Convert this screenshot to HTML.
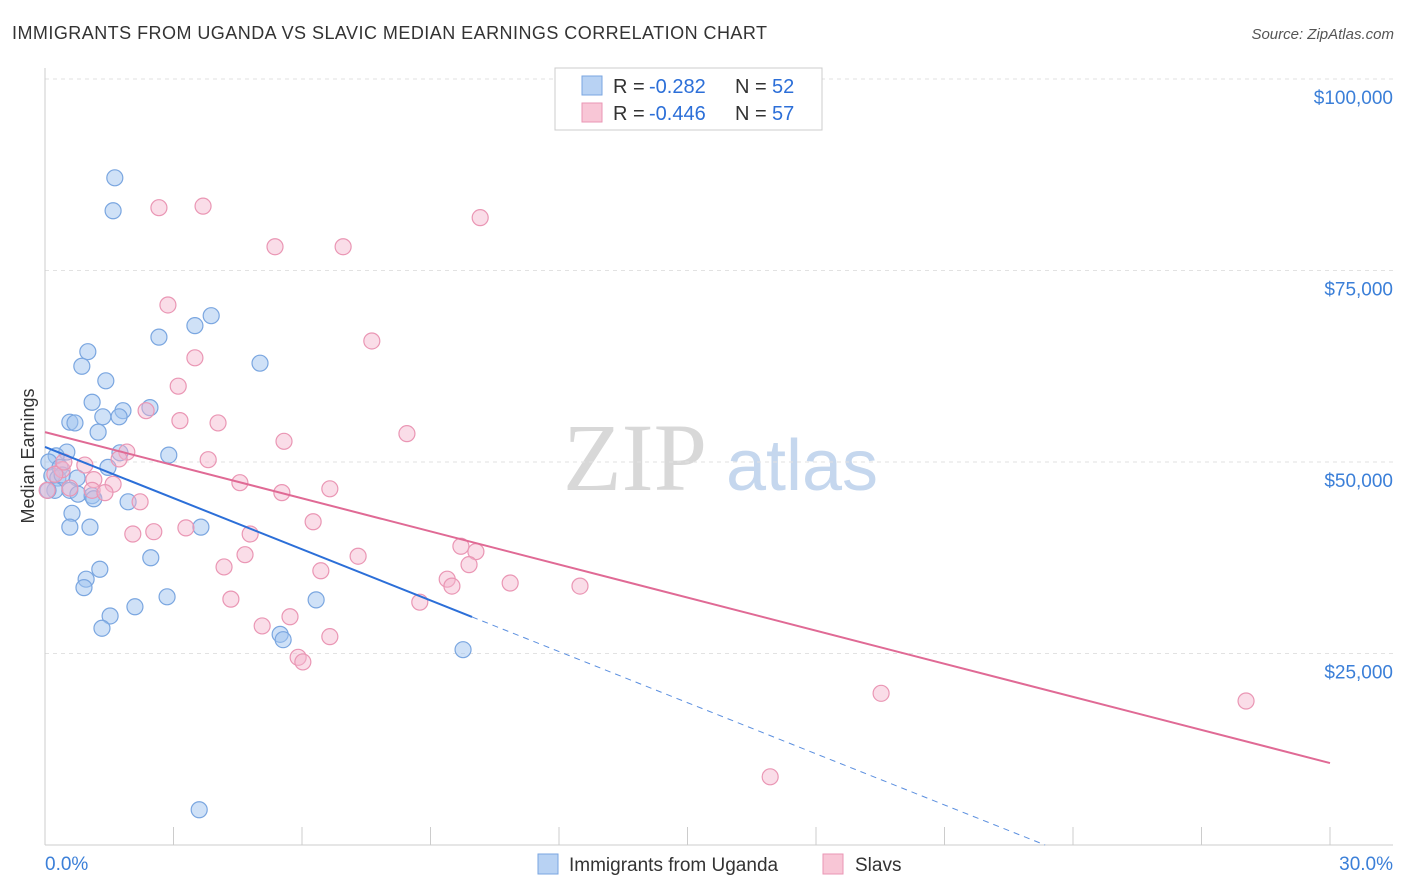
<!DOCTYPE html>
<html><head><meta charset="utf-8"><style>
body{margin:0;background:#fff;font-family:"Liberation Sans",sans-serif;}
#wrap{position:relative;width:1406px;height:892px;overflow:hidden;}
</style></head><body>
<div id="wrap">
<svg id="svg" width="1406" height="892" xmlns="http://www.w3.org/2000/svg">
<text x="12" y="39" font-size="18" fill="#333" textLength="755" lengthAdjust="spacing">IMMIGRANTS FROM UGANDA VS SLAVIC MEDIAN EARNINGS CORRELATION CHART</text>
<text x="1394" y="39" font-size="15" fill="#555" font-style="italic" text-anchor="end">Source: ZipAtlas.com</text>
<text x="34" y="456" font-size="18" fill="#333" text-anchor="middle" transform="rotate(-90 34 456)">Median Earnings</text>
<g>
<text x="635" y="490" font-size="96" fill="#d8d8d8" font-family="Liberation Serif,serif" text-anchor="middle">ZIP</text>
<text x="802" y="490" font-size="72" fill="#c5d7ee" text-anchor="middle">atlas</text>
</g>
<g id="grid"></g><g id="marks"></g><g id="trend"></g>
<g>
<rect x="555" y="68" width="267" height="62" fill="#fff" stroke="#ccc"/>
<rect x="582" y="76" width="20" height="19" fill="#b8d2f3" stroke="#7aa6e0"/>
<rect x="582" y="103" width="20" height="19" fill="#f8c6d6" stroke="#ea96b4"/>
<text x="613" y="93" font-size="20" fill="#333">R = </text><text x="649" y="93" font-size="20" fill="#2c6fd8">-0.282</text>
<text x="735" y="93" font-size="20" fill="#333">N = </text><text x="772" y="93" font-size="20" fill="#2c6fd8">52</text>
<text x="613" y="120" font-size="20" fill="#333">R = </text><text x="649" y="120" font-size="20" fill="#2c6fd8">-0.446</text>
<text x="735" y="120" font-size="20" fill="#333">N = </text><text x="772" y="120" font-size="20" fill="#2c6fd8">57</text>
</g>
<g>
<rect x="538" y="854" width="20" height="20" fill="#b8d2f3" stroke="#7aa6e0"/>
<text x="569" y="871" font-size="19" fill="#333">Immigrants from Uganda</text>
<rect x="823" y="854" width="20" height="20" fill="#f8c6d6" stroke="#ea96b4"/>
<text x="855" y="871" font-size="19" fill="#333">Slavs</text>
</g>
</svg>
</div>
<script>
const blueX=[1.63,1.59,3.88,3.50,2.66,1.00,5.02,0.86,1.42,1.10,2.45,1.82,1.35,1.73,0.58,0.70,1.24,0.51,0.26,1.75,2.89,0.09,0.35,1.47,0.16,0.30,0.75,0.23,0.58,0.77,1.10,1.14,1.94,0.63,0.58,1.05,3.64,2.47,1.28,0.96,0.91,2.85,6.33,2.10,1.52,1.33,5.49,5.56,9.76,3.60,0.07,0.40];
const blueY=[87100,82800,69100,67800,66300,64400,62900,62500,60600,57800,57100,56700,55900,55900,55200,55100,53900,51300,50800,51200,50900,50000,49300,49300,48200,47900,47900,46300,46300,45800,45600,45200,44800,43300,41500,41500,41500,37500,36000,34700,33600,32400,32000,31100,29900,28300,27500,26800,25500,4600,46300,48300];
const pinkX=[10.16,2.66,3.69,5.37,6.96,2.87,7.63,3.50,3.11,2.36,3.15,4.04,8.45,5.58,1.91,3.81,1.73,0.93,0.40,1.14,1.59,1.10,4.55,6.65,5.53,1.40,2.22,6.26,3.29,2.54,2.05,4.79,9.71,10.06,4.67,7.31,4.18,6.44,9.90,9.39,9.50,10.86,12.49,4.34,8.75,5.72,5.07,6.65,5.91,6.02,19.52,28.04,16.93,0.23,0.58,0.44,0.05];
const pinkY=[81900,83200,83400,78100,78100,70500,65800,63600,59900,56700,55400,55100,53700,52700,51300,50300,50400,49600,49000,47700,47100,46300,47300,46500,46000,46000,44800,42200,41400,40900,40600,40600,39000,38300,37900,37700,36300,35800,36600,34700,33800,34200,33800,32100,31700,29800,28600,27200,24500,23900,19800,18800,8900,48400,46600,50000,46300];
const yTicks=[25000,50000,75000,100000];
const yTickLabels=["$25,000","$50,000","$75,000","$100,000"];
const xTicks=[0,3,6,9,12,15,18,21,24,27,30];
const blueTrend=[51960,-14800];
const blueSolidEnd=[9.97];
const pinkTrend=[53900,10700];
const NS="http://www.w3.org/2000/svg";
const xs=v=>45+v/30*1285;
const ys=v=>845-v/25000*191.5;
function mk(t,a,p){const e=document.createElementNS(NS,t);for(const k in a)e.setAttribute(k,a[k]);p.appendChild(e);return e;}
const grid=document.getElementById('grid'),marks=document.getElementById('marks'),trend=document.getElementById('trend');
yTicks.forEach((t,i)=>{
 const l=mk('line',{x1:45,x2:1393,y1:ys(t),y2:ys(t),stroke:'#e2e2e2','stroke-dasharray':'4,4'},grid);
 
 
 const tx=mk('text',{x:1393,y:ys(t)+25,'font-size':19,fill:'#3b7fd8','text-anchor':'end'},grid);
 tx.textContent=yTickLabels[i];
 
 
});
mk('line',{x1:45,x2:45,y1:68,y2:845,stroke:'#ccc'},grid);
mk('line',{x1:45,x2:1393,y1:845,y2:845,stroke:'#ccc'},grid);
xTicks.forEach(t=>{
 const l=mk('line',{x1:xs(t),x2:xs(t),y1:827,y2:845,stroke:'#ccc'},grid);
 
 
});
const x0=mk('text',{x:45,y:870,'font-size':19,fill:'#3b7fd8'},grid);x0.textContent='0.0%';


const x1=mk('text',{x:1393,y:870,'font-size':19,fill:'#3b7fd8','text-anchor':'end'},grid);x1.textContent='30.0%';


blueX.forEach((v,i)=>{
 const c=mk('circle',{cx:xs(v),cy:ys(blueY[i]),r:8,fill:'rgba(160,195,240,0.5)',stroke:'#7aa6e0','stroke-width':1.2},marks);
 
 
});
pinkX.forEach((v,i)=>{
 const c=mk('circle',{cx:xs(v),cy:ys(pinkY[i]),r:8,fill:'rgba(245,180,204,0.45)',stroke:'#ea96b4','stroke-width':1.2},marks);
 
 
});
const by=x=>blueTrend[0]+(blueTrend[1]-blueTrend[0])*x/30;
const zx=blueTrend[0]/(blueTrend[0]-blueTrend[1])*30;
const b1=mk('line',{x1:xs(0),y1:ys(by(0)),x2:xs(blueSolidEnd[0]),y2:ys(by(blueSolidEnd[0])),stroke:'#2c6fd8','stroke-width':2},trend);


const b2=mk('line',{x1:xs(blueSolidEnd[0]),y1:ys(by(blueSolidEnd[0])),x2:xs(zx),y2:ys(0),stroke:'#5b8fdf','stroke-width':1,'stroke-dasharray':'6,5'},trend);


const p1=mk('line',{x1:xs(0),y1:ys(pinkTrend[0]),x2:xs(30),y2:ys(pinkTrend[1]),stroke:'#e06a95','stroke-width':2},trend);


</script>
</body></html>
